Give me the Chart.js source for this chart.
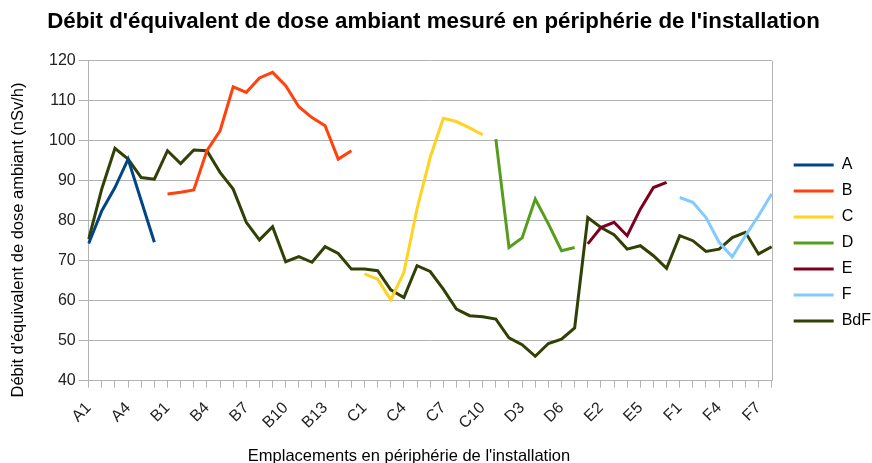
<!DOCTYPE html>
<html>
<head>
<meta charset="utf-8">
<script src="https://cdn.jsdelivr.net/npm/chart.js@4/dist/chart.umd.min.js"></script>
<style>
    html, body { margin: 0; padding: 0; background: #fff; overflow: hidden; }
    #wrap { width: 872px; height: 472px; }
</style>
</head>
<body>
<div id="wrap"><canvas id="doseChart" width="872" height="472"></canvas></div>
<script>
// categories (emplacements)
var groupA = ['A1', 'A2', 'A3', 'A4', 'A5', 'A6'];
var groupB = ['B1', 'B2', 'B3', 'B4', 'B5', 'B6', 'B7', 'B8', 'B9', 'B10', 'B11', 'B12', 'B13', 'B14', 'B15'];
var groupC = ['C1', 'C2', 'C3', 'C4', 'C5', 'C6', 'C7', 'C8', 'C9', 'C10'];
var groupD = ['D1', 'D2', 'D3', 'D4', 'D5', 'D6', 'D7'];
var groupE = ['E1', 'E2', 'E3', 'E4', 'E5', 'E6', 'E7'];
var groupF = ['F1', 'F2', 'F3', 'F4', 'F5', 'F6', 'F7', 'F8'];
var categories = groupA.concat(groupB, groupC, groupD, groupE, groupF);

// mesures par zone (nSv/h)
var valuesA = [74.3, 82.5, 88.3, 95.4, 85, 74.6];
var valuesB = [86.7, 87.1, 87.7, 97.5, 102.5, 113.5, 112.1, 115.7, 117.1, 113.75, 108.5, 105.8, 103.75, 95.4, 97.5];
var valuesC = [66.7, 65.4, 60.2, 67.1, 83, 95.8, 105.6, 104.8, 103.2, 101.5];
var valuesD = [100.4, 73.3, 75.7, 85.4, 79.2, 72.5, 73.3];
var valuesE = [74.2, 78.3, 79.6, 76.25, 82.9, 88.3, 89.6];
var valuesF = [85.8, 84.6, 80.8, 74.6, 71, 76.25, 81.25, 86.7];

// bruit de fond, mesuré à chaque emplacement
var valuesBdF = [75.4, 88, 98.1, 95.4, 90.8, 90.4, 97.5, 94.3, 97.7, 97.5,
    92.1, 87.9, 79.6, 75.2, 78.5, 69.75, 71, 69.6, 73.5, 71.8,
    67.9, 67.9, 67.5, 62.7, 60.8, 68.75, 67.3, 62.9, 57.9, 56.25,
    56, 55.4, 50.7, 49, 46.1, 49.3, 50.4, 53.2,
    80.8, 78.3, 76.5, 72.9, 73.75, 71.25, 68.1,
    76.25, 75, 72.3, 72.9, 75.8, 77.1, 71.7, 73.5];

// y axis ticks
var yTicks = [40, 50, 60, 70, 80, 90, 100, 110, 120];

// axis titles
var xTitle = "Emplacements en périphérie de l'installation";
var yTitle = "Débit d'équivalent de dose ambiant (nSv/h)";

// place a zone's values on its own categories, null elsewhere
function placeOnCategories(group, values) {
    return categories.map(function (cat) {
        var idx = group.indexOf(cat);
        return idx >= 0 ? values[idx] : null;
    });
}

function lineSet(label, data, color) {
    return {
        label: label,
        data: data,
        borderColor: color,
        backgroundColor: color,
        borderWidth: 3,
        pointRadius: 0,
        pointHoverRadius: 0,
        tension: 0,
        spanGaps: false
    };
}

const baseFont = 'Liberation Sans';

// plot border on the right, legend/title nudge, axis titles placed like the original
const chartDecor = {
    id: 'chartDecor',
    afterLayout: function (chart) {
        var lg = chart.legend;
        lg.left += 12;
        lg.right += 12;
        lg.top += 21;
        lg.bottom += 21;
        // title centred on the whole picture, not on the padded box
        chart.titleBlock.left = 0;
        chart.titleBlock.right = 867;
    },
    afterDatasetsDraw: function (chart) {
        var area = chart.chartArea;
        var c = chart.ctx;
        c.save();
        c.strokeStyle = '#b3b3b3';
        c.lineWidth = 1;
        c.beginPath();
        c.moveTo(Math.round(area.right) + 0.5, area.top);
        c.lineTo(Math.round(area.right) + 0.5, area.bottom);
        c.stroke();
        c.restore();
    },
    afterDraw: function (chart) {
        var c = chart.ctx;
        c.save();
        c.fillStyle = '#000';
        c.font = '16.5px "' + baseFont + '"';
        c.textAlign = 'center';
        c.textBaseline = 'middle';
        c.fillText(xTitle, 409, 456);
        c.translate(18, 240);
        c.rotate(-Math.PI / 2);
        c.fillText(yTitle, 0, 0);
        c.restore();
    }
};

const ctx = document.getElementById('doseChart');

const config = {
    type: 'line',
    data: {
        labels: categories,
        datasets: [
            lineSet('A', placeOnCategories(groupA, valuesA), '#004586'),
            lineSet('B', placeOnCategories(groupB, valuesB), '#ff420e'),
            lineSet('C', placeOnCategories(groupC, valuesC), '#ffd320'),
            lineSet('D', placeOnCategories(groupD, valuesD), '#579d1c'),
            lineSet('E', placeOnCategories(groupE, valuesE), '#7e0021'),
            lineSet('F', placeOnCategories(groupF, valuesF), '#83caff'),
            lineSet('BdF', valuesBdF, '#314004')
        ]
    },
    plugins: [chartDecor],
    options: {
        responsive: false,
        animation: false,
        devicePixelRatio: 1,
        layout: {
            padding: { left: 46, right: 3, top: 0, bottom: 28 }
        },
        plugins: {
            title: {
                display: true,
                text: "Débit d'équivalent de dose ambiant mesuré en périphérie de l'installation",
                color: '#000',
                font: { family: baseFont, size: 22.3, weight: 'bold' },
                padding: { top: 8, bottom: 26 }
            },
            legend: {
                position: 'right',
                labels: {
                    usePointStyle: true,
                    pointStyle: 'line',
                    pointStyleWidth: 40,
                    color: '#000',
                    font: { family: baseFont, size: 16 },
                    padding: 10
                }
            },
            tooltip: { enabled: false }
        },
        scales: {
            x: {
                offset: false,
                grid: {
                    display: true,
                    drawOnChartArea: false,
                    drawTicks: true,
                    tickLength: 7,
                    color: '#b3b3b3'
                },
                border: { color: '#b3b3b3', width: 1 },
                ticks: {
                    autoSkip: false,
                    maxRotation: 45,
                    minRotation: 45,
                    color: '#222',
                    font: { family: baseFont, size: 16 },
                    padding: 11,
                    callback: function (value, index) {
                        return index % 3 === 0 ? categories[index] : '';
                    }
                }
            },
            y: {
                min: 40,
                max: 120,
                afterBuildTicks: function (axis) {
                    axis.ticks = yTicks.map(function (v) { return { value: v }; });
                },
                grid: {
                    color: '#b3b3b3',
                    tickLength: 10,
                    lineWidth: 1
                },
                border: { color: '#b3b3b3', width: 1 },
                ticks: {
                    color: '#222',
                    font: { family: baseFont, size: 16 },
                    padding: 3
                }
            }
        }
    }
};

// draw chart
var doseChart = new Chart(ctx, config);
</script>
</body>
</html>
